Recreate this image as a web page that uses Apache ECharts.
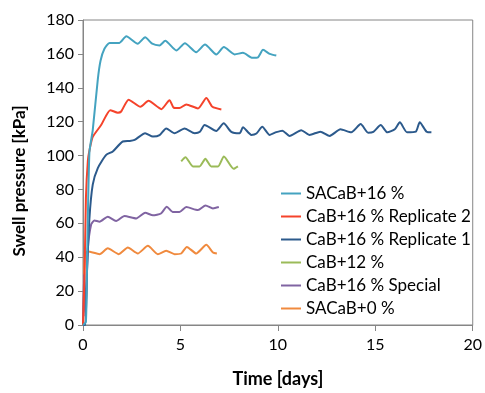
<!DOCTYPE html>
<html>
<head>
<meta charset="utf-8">
<script src="https://cdn.jsdelivr.net/npm/echarts@6/dist/echarts.min.js"></script>
<style>html,body{margin:0;padding:0;background:#fff}#c{width:485px;height:393px}</style>
</head>
<body>
<div id="c"></div>
<script>
const seriesNames = ['SACaB+16 %', 'CaB+16 % Replicate 2', 'CaB+16 % Replicate 1', 'CaB+12 %', 'CaB+16 % Special', 'SACaB+0 %'];
const xTicks = [0, 5, 10, 15, 20];
const yTicks = [0, 20, 40, 60, 80, 100, 120, 140, 160, 180];

const tSACaB16 = [0, 0.15, 0.22, 0.33, 0.5, 0.76, 0.9, 1.1, 1.36, 1.87, 2.22, 2.81, 3.19, 3.55, 3.93, 4.22, 4.79, 5.23, 5.81, 6.26, 6.84, 7.23, 7.78, 8.21, 8.69, 8.98, 9.24, 9.58, 9.92];
const vSACaB16 = [0, 2, 45, 102, 115, 145, 156, 163, 166.5, 166.5, 170.4, 166, 169.8, 166, 165, 167.7, 162, 166.3, 161, 165.5, 159.7, 164, 159.7, 160.6, 157.7, 158, 162.4, 160, 159];

const tRep2 = [0, 0.08, 0.15, 0.25, 0.33, 0.5, 0.93, 1.4, 1.79, 1.96, 2.34, 2.95, 3.36, 4.02, 4.44, 4.66, 4.95, 5.3, 5.9, 6.33, 6.64, 7.1];
const vRep2 = [0, 30, 75, 97, 103, 111, 118, 126.8, 125.3, 126, 133, 128.8, 132.3, 127.4, 132.7, 128.2, 128, 130.2, 127.8, 134, 128.8, 127.2];

const tRep1 = [0, 0.12, 0.2, 0.33, 0.5, 0.76, 1.19, 1.53, 2.04, 2.4, 2.65, 3.19, 3.59, 3.93, 4.27, 4.7, 5.21, 5.73, 6.0, 6.24, 6.84, 7.22, 7.61, 8.04, 8.21, 8.64, 8.9, 9.2, 9.58, 9.92, 10.23, 10.6, 11.2, 11.63, 12.18, 12.66, 13.21, 13.77, 14.25, 14.63, 14.9, 15.28, 15.62, 16.0, 16.26, 16.63, 17.08, 17.28, 17.63, 17.88];
const vRep1 = [0, 0, 30, 63, 82.8, 92.6, 100.4, 102.4, 108.3, 108.6, 109.2, 113.2, 111.2, 112, 116, 113.2, 116, 113.2, 114, 118, 114.5, 119, 114, 113.2, 116.7, 112.2, 113, 117, 112.2, 113.8, 114.7, 111.6, 115, 112.2, 114.1, 111.6, 115.5, 113.7, 118.6, 113.5, 114, 118, 113.7, 115.5, 119.6, 113.7, 114.1, 119.6, 114.1, 113.7];

const tCaB12 = [5.04, 5.26, 5.64, 5.98, 6.28, 6.58, 6.93, 7.23, 7.73, 7.95];
const vCaB12 = [96.6, 99, 93.6, 93.6, 98.1, 93.6, 93.6, 99.5, 92.2, 93.6];

const tSpecial = [0, 0.05, 0.12, 0.25, 0.42, 0.59, 0.85, 1.27, 1.7, 2.13, 2.73, 3.19, 3.59, 4.0, 4.3, 4.61, 4.95, 5.3, 5.9, 6.29, 6.67, 6.97];
const vSpecial = [0, 30, 5, 45, 59.4, 61.7, 61, 63.9, 61.4, 64.3, 62.9, 66.3, 64.7, 65.8, 69.8, 66.7, 66.7, 69.6, 67.8, 70.5, 68.8, 69.6];

const tSACaB0 = [0, 0.05, 0.1, 0.25, 0.85, 1.27, 1.84, 2.3, 2.81, 3.33, 3.84, 4.27, 4.7, 5.04, 5.33, 5.81, 6.33, 6.67, 6.87];
const vSACaB0 = [0, 20, 42, 43.4, 41.8, 45.3, 41.8, 45.7, 42.2, 46.7, 41.8, 43.8, 41.8, 42.2, 46.1, 42.2, 47.3, 42.8, 42.2];

const colors = ['#44A3C0', '#F5432B', '#2C5A8C', '#9BBB59', '#8064A2', '#F08A3E'];
const times = [tSACaB16, tRep2, tRep1, tCaB12, tSpecial, tSACaB0];
const vals = [vSACaB16, vRep2, vRep1, vCaB12, vSpecial, vSACaB0];

const FONT = 'Lato, "Open Sans", sans-serif';
const chart = echarts.init(document.getElementById('c'), null, {renderer: 'canvas'});
const series = seriesNames.map((n, i) => ({
  name: n,
  type: 'line',
  data: times[i].map((t, j) => [t, vals[i][j]]),
  showSymbol: false,
  smooth: 0.2,
  lineStyle: {color: colors[i], width: 2},
  itemStyle: {color: colors[i]},
  z: 10 - i
}));
chart.setOption({
  animation: false,
  textStyle: {fontFamily: FONT},
  grid: {left: 83, right: 11, top: 20, bottom: 66, show: true, borderColor: '#868686', borderWidth: 1},
  graphic: [{
    type: 'text', x: 20, y: 181, rotation: Math.PI / 2,
    style: {text: 'Swell pressure [kPa]', fontFamily: FONT, fontSize: 17, fontWeight: 'bold', fill: '#000', textAlign: 'center', textVerticalAlign: 'middle'}
  }],
  legend: {
    orient: 'vertical', left: 276, top: 180,
    icon: 'rect', itemWidth: 20, itemHeight: 2, itemGap: 6,
    textStyle: {fontFamily: FONT, fontSize: 17, color: '#000', lineHeight: 17},
    data: seriesNames
  },
  xAxis: {
    type: 'value', min: 0, max: 20, interval: 5,
    name: 'Time [days]', nameLocation: 'middle', nameGap: 45,
    nameTextStyle: {fontFamily: FONT, fontSize: 18, fontWeight: 'bold', color: '#000'},
    axisLine: {lineStyle: {color: '#868686'}},
    axisTick: {show: true, inside: false, length: 6, lineStyle: {color: '#868686'}},
    axisLabel: {fontFamily: FONT, fontSize: 16, color: '#000', margin: 12, formatter: v => xTicks.includes(v) ? String(v) : ''},
    splitLine: {show: false}
  },
  yAxis: {
    type: 'value', min: 0, max: 180, interval: 20,
    axisLine: {show: true, lineStyle: {color: '#868686'}},
    axisTick: {show: true, inside: false, length: 5, lineStyle: {color: '#868686'}},
    axisLabel: {fontFamily: FONT, fontSize: 16, color: '#000', margin: 9, formatter: v => yTicks.includes(v) ? String(v) : ''},
    splitLine: {show: false}
  },
  series: series
});
</script>
</body>
</html>
